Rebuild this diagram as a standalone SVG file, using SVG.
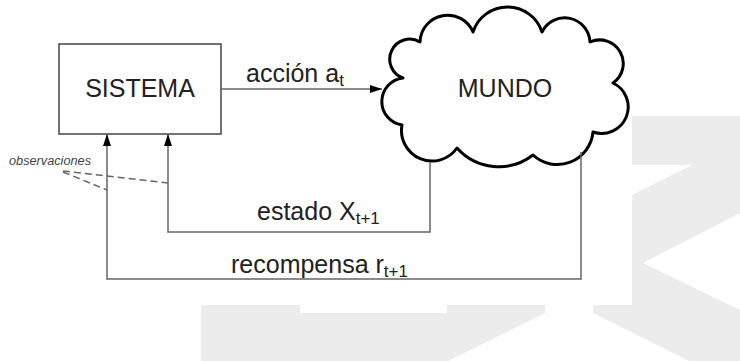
<svg xmlns="http://www.w3.org/2000/svg" width="740" height="361" viewBox="0 0 740 361">
  <style>
    .bg { fill: #ececec; stroke: none; }
    .box { fill: #ffffff; stroke: #444444; stroke-width: 1.5; }
    .cloud { fill: #ffffff; stroke: #000000; stroke-width: 3; stroke-linejoin: round; }
    .conn { fill: none; stroke: #666666; stroke-width: 1.5; }
    .dash { fill: none; stroke: #666666; stroke-width: 1.5; stroke-dasharray: 7 4; }
    .big { font-family: "Liberation Sans", Arial, sans-serif; font-size: 25px; fill: #222222; }
    .lbl { font-family: "Liberation Sans", Arial, sans-serif; font-size: 25px; fill: #222222; }
    .obs { font-family: "Liberation Sans", Arial, sans-serif; font-size: 12px; font-style: italic; fill: #444444; }
  </style>
  <defs>
    <marker id="arrow" markerUnits="userSpaceOnUse" markerWidth="12" markerHeight="8" refX="12" refY="4" orient="auto">
      <path d="M0,0 L12,4 L0,8 z" fill="#000000"/>
    </marker>
  </defs>
  <rect width="740" height="361" fill="#ffffff"/>
  <g id="background">
    <polygon class="bg" points="201,305 300,305 300,313 447,313 447,305 545,305 545,313 448,361 201,361"/>
    <polygon class="bg" points="632,116 740,116 740,213 643,263 740,310 740,361 689,361 593,313 593,305 632,305 632,195 692,165 632,165"/>
  </g>
  <g id="sistema">
    <rect class="box" x="59" y="44" width="162" height="90"/>
    <text class="big" x="140" y="97" text-anchor="middle">SISTEMA</text>
  </g>
  <g id="mundo">
    <path class="cloud" d="M403,78 A20,20 0 1,1 420,42 A27.6,27.6 0 0,1 473,32 A36.3,36.3 0 0,1 542,32 A25.3,25.3 0 0,1 590,42 A23.6,23.6 0 0,1 613,83 A26.5,26.5 0 0,1 593,132 A35.8,35.8 0 0,1 533,155 A56,56 0 0,1 457,148 A30.5,30.5 0 0,1 402,125 A23.7,23.7 0 0,1 403,78 Z"/>
    <text class="big" x="505" y="97" text-anchor="middle">MUNDO</text>
  </g>
  <g id="connectors">
    <path class="conn" d="M221,89 H382" marker-end="url(#arrow)"/>
    <path class="conn" d="M430,162 V232 H168 V134" marker-end="url(#arrow)"/>
    <path class="conn" d="M581,152 V279 H107 V134" marker-end="url(#arrow)"/>
    <path class="dash" d="M63,171 L168,183"/>
    <path class="dash" d="M63,172 L107,190"/>
  </g>
  <g id="labels">
    <text class="lbl" x="246" y="82">acción a<tspan font-size="17" dy="4">t</tspan></text>
    <text class="lbl" x="257" y="220">estado X<tspan font-size="17" dy="4">t+1</tspan></text>
    <text class="lbl" x="231" y="273">recompensa r<tspan font-size="17" dy="4">t+1</tspan></text>
    <text class="obs" x="9" y="165" textLength="82" lengthAdjust="spacingAndGlyphs">observaciones</text>
  </g>
</svg>
